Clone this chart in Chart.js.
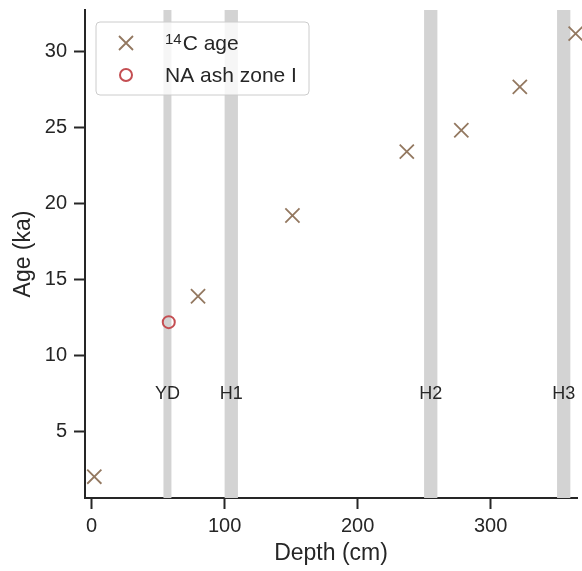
<!DOCTYPE html>
<html>
<head>
<meta charset="utf-8">
<script src="https://cdn.jsdelivr.net/npm/chart.js@4/dist/chart.umd.min.js"></script>
<style>
  html, body { margin: 0; padding: 0; background: #fff; }
</style>
</head>
<body>
<canvas id="ageChart" width="582" height="571"></canvas>
<script>
// Radiocarbon ages and tephra tie point vs core depth
const c14Depth = [2, 80, 151, 237, 278, 322, 364];
const c14Age = [2.05, 13.9, 19.2, 23.4, 24.8, 27.65, 31.15];
const ashDepth = [58];
const ashAge = [12.2];

// Cold events (depth intervals)
const eventNames = ['YD', 'H1', 'H2', 'H3'];
const eventStart = [54, 100, 250, 350];
const eventEnd = [60, 110, 260, 360];
const eventLabelAge = 7.5;

const xTicks = [0, 100, 200, 300];
const yTicks = [5, 10, 15, 20, 25, 30];

const FONT = "'Liberation Sans', Arial, Helvetica, sans-serif";
const INK = '#262626';
const BROWN = '#937860';
const RED = '#c44e52';
const BAND = '#d3d3d3';

const toPoints = (xs, ys) => xs.map((x, i) => ({ x: x, y: ys[i] }));

// grey bands for the events, drawn behind the points
const bandsPlugin = {
    id: 'bands',
    beforeDatasetsDraw(chart) {
        const { ctx, chartArea, scales } = chart;
        ctx.save();
        ctx.fillStyle = BAND;
        eventNames.forEach((name, i) => {
            const x0 = scales.x.getPixelForValue(eventStart[i]);
            const x1 = scales.x.getPixelForValue(eventEnd[i]);
            ctx.fillRect(x0, chartArea.top, x1 - x0, chartArea.bottom - chartArea.top);
        });
        ctx.fillStyle = INK;
        ctx.font = '18px ' + FONT;
        ctx.textAlign = 'center';
        ctx.textBaseline = 'middle';
        eventNames.forEach((name, i) => {
            const xc = scales.x.getPixelForValue((eventStart[i] + eventEnd[i]) / 2);
            const yc = scales.y.getPixelForValue(eventLabelAge);
            ctx.fillText(name, xc, yc);
        });
        ctx.restore();
    }
};

// matplotlib-style legend box in the upper left
const legendPlugin = {
    id: 'boxLegend',
    afterDraw(chart) {
        const { ctx, chartArea } = chart;
        const left = chartArea.left + 11, top = chartArea.top + 12;
        const w = 213, h = 73;
        ctx.save();
        ctx.beginPath();
        ctx.roundRect(left, top, w, h, 4);
        ctx.fillStyle = 'rgba(255,255,255,0.8)';
        ctx.fill();
        ctx.strokeStyle = '#cccccc';
        ctx.lineWidth = 1;
        ctx.stroke();

        const mx = left + 30;
        const y1 = top + 21, y2 = top + 53;
        // cross marker
        ctx.strokeStyle = BROWN;
        ctx.lineWidth = 1.8;
        const r = 7;
        ctx.beginPath();
        ctx.moveTo(mx - r, y1 - r); ctx.lineTo(mx + r, y1 + r);
        ctx.moveTo(mx - r, y1 + r); ctx.lineTo(mx + r, y1 - r);
        ctx.stroke();
        // circle marker
        ctx.strokeStyle = RED;
        ctx.lineWidth = 2;
        ctx.beginPath();
        ctx.arc(mx, y2, 6, 0, Math.PI * 2);
        ctx.stroke();

        ctx.fillStyle = INK;
        ctx.textBaseline = 'alphabetic';
        ctx.textAlign = 'left';
        const tx = left + 69;
        ctx.font = '15px ' + FONT;
        ctx.fillText('14', tx, y1 + 1);
        const supW = ctx.measureText('14').width;
        ctx.font = '21px ' + FONT;
        ctx.fillText('C age', tx + supW + 1, y1 + 7);
        ctx.fillText('NA ash zone I', tx, y2 + 7);
        ctx.restore();
    }
};

const axisStyle = {
    grid: {
        display: true,
        drawOnChartArea: false,
        drawTicks: true,
        tickLength: 11,
        tickWidth: 2,
        tickColor: INK
    },
    border: { display: true, color: INK, width: 2 }
};

new Chart(document.getElementById('ageChart'), {
    type: 'scatter',
    data: {
        datasets: [
            {
                label: '14C age',
                data: toPoints(c14Depth, c14Age),
                pointStyle: 'crossRot',
                pointRadius: 10,
                pointHoverRadius: 10,
                borderWidth: 1.8,
                borderColor: BROWN,
                backgroundColor: BROWN,
                clip: false
            },
            {
                label: 'NA ash zone I',
                data: toPoints(ashDepth, ashAge),
                pointStyle: 'circle',
                pointRadius: 6,
                pointHoverRadius: 6,
                borderWidth: 2,
                borderColor: RED,
                backgroundColor: 'rgba(0,0,0,0)',
                clip: false
            }
        ]
    },
    options: {
        responsive: false,
        animation: false,
        devicePixelRatio: 1,
        layout: { autoPadding: false, padding: { top: 10, right: 5, left: 0, bottom: 0 } },
        scales: {
            x: {
                type: 'linear',
                min: -5,
                max: 365,
                ...axisStyle,
                afterBuildTicks: s => { s.ticks = xTicks.map(v => ({ value: v })); },
                afterFit: s => {
                    s.height = 73;
                    s.paddingLeft = 0;
                    s.paddingRight = 0;
                },
                ticks: { color: INK, font: { family: FONT, size: 20 }, padding: 5 },
                title: {
                    display: true,
                    text: 'Depth (cm)',
                    color: INK,
                    font: { family: FONT, size: 23 },
                    padding: { top: 0, bottom: 4 }
                }
            },
            y: {
                type: 'linear',
                min: 0.65,
                max: 32.7,
                ...axisStyle,
                afterBuildTicks: s => { s.ticks = yTicks.map(v => ({ value: v })); },
                afterFit: s => {
                    s.width = 85;
                    s.paddingTop = 0;
                    s.paddingBottom = 0;
                },
                ticks: { color: INK, font: { family: FONT, size: 20 }, padding: 7 },
                title: {
                    display: true,
                    text: 'Age (ka)',
                    color: INK,
                    font: { family: FONT, size: 23 },
                    padding: { top: 10, bottom: 0 }
                }
            }
        },
        plugins: {
            legend: { display: false },
            tooltip: { enabled: false }
        }
    },
    plugins: [bandsPlugin, legendPlugin]
});
</script>
</body>
</html>
